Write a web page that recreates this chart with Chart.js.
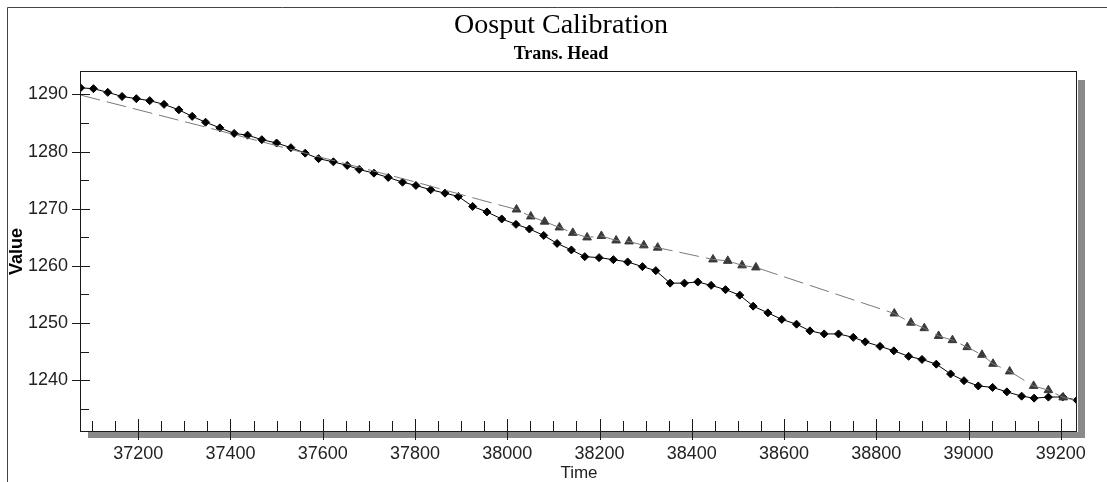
<!DOCTYPE html>
<html>
<head>
<meta charset="utf-8">
<script src="https://cdn.jsdelivr.net/npm/chart.js@4.4.1/dist/chart.umd.min.js"></script>
<style>
  html, body { margin: 0; padding: 0; background: #fff; }
</style>
</head>
<body>
<canvas id="chart" width="1107" height="482"></canvas>
<script>
// observed heads (black diamonds)
const obsTimes = [37075, 37103, 37134, 37165, 37196, 37225, 37256, 37288, 37317, 37346, 37377, 37408,
  37437, 37468, 37500, 37531, 37562, 37591, 37623, 37653, 37679, 37711, 37742, 37773, 37802, 37834,
  37865, 37894, 37925, 37956, 37988, 38019, 38048, 38079, 38108, 38139, 38168, 38199, 38230, 38261,
  38293, 38322, 38353, 38384, 38413, 38442, 38473, 38504, 38533, 38565, 38595, 38627, 38656, 38687,
  38718, 38750, 38776, 38808, 38838, 38870, 38899, 38930, 38961, 38990, 39021, 39052, 39083, 39115,
  39142, 39173, 39204, 39235];
const obsHeads = [1291.16, 1291.02, 1290.37, 1289.65, 1289.27, 1288.92, 1288.27, 1287.31, 1286.17, 1285.15,
  1284.16, 1283.18, 1282.88, 1282.09, 1281.51, 1280.69, 1279.73, 1278.77, 1278.21, 1277.58, 1276.88,
  1276.23, 1275.48, 1274.65, 1274.08, 1273.32, 1272.73, 1272.15, 1270.40, 1269.44, 1268.21, 1267.27,
  1266.46, 1265.33, 1263.93, 1262.79, 1261.62, 1261.44, 1261.09, 1260.69, 1259.87, 1259.17, 1256.98,
  1256.98, 1257.19, 1256.59, 1255.84, 1254.88, 1252.95, 1251.78, 1250.63, 1249.80, 1248.63, 1248.09,
  1248.09, 1247.49, 1246.70, 1245.92, 1245.13, 1244.17, 1243.63, 1242.80, 1241.09, 1239.91, 1238.99,
  1238.73, 1237.95, 1237.20, 1236.85, 1237.03, 1237.06, 1236.50];

// calculated heads at target times (triangles)
const targetTimes = [38020, 38051, 38081, 38113, 38142, 38173, 38204, 38236, 38264, 38296, 38326, 38446,
  38478, 38509, 38539, 38839, 38875, 38904, 38935, 38965, 38997, 39029, 39053, 39089, 39141, 39173, 39205];
const targetHeads = [1269.87, 1268.65, 1267.74, 1266.73, 1265.78, 1264.98, 1265.24, 1264.45, 1264.28,
  1263.59, 1263.19, 1261.13, 1260.88, 1260.09, 1259.73, 1251.67, 1250.06, 1249.10, 1247.74, 1247.00,
  1245.78, 1244.43, 1242.86, 1241.53, 1238.99, 1238.25, 1236.98];

// calculated curve before the first and after the last target
const calcLeadTimes = [37075, 37346, 37800, 37940];
const calcLeadHeads = [1289.9, 1284.3, 1274.7, 1271.6];
const calcTailTimes = [39236];
const calcTailHeads = [1236.4];

const xTickLabels = [37200, 37400, 37600, 37800, 38000, 38200, 38400, 38600, 38800, 39000, 39200];
const yTickLabels = [1240, 1250, 1260, 1270, 1280, 1290];

const toPoints = (xs, ys) => xs.map((x, i) => ({ x, y: ys[i] }));
const calcTimes = [...calcLeadTimes, ...targetTimes, ...calcTailTimes];
const calcHeads = [...calcLeadHeads, ...targetHeads, ...calcTailHeads];

const frame = {
  id: 'frame',
  beforeDraw(chart) {
    const { ctx, chartArea: a } = chart;
    const l = Math.round(a.left), t = Math.round(a.top), r = Math.round(a.right), b = Math.round(a.bottom);
    ctx.save();
    ctx.strokeStyle = '#444';
    ctx.lineWidth = 1;
    ctx.beginPath();
    ctx.moveTo(7.5, chart.height);
    ctx.lineTo(7.5, 7.5);
    ctx.lineTo(chart.width, 7.5);
    ctx.stroke();
    // drop shadow of the plot box
    ctx.fillStyle = '#8a8a8a';
    ctx.fillRect(r + 1, t + 8, 7, b - t - 1);
    ctx.fillRect(l + 7, b + 1, r - l - 6, 6);
    ctx.restore();
  },
  afterDraw(chart) {
    const { ctx, chartArea: a, scales } = chart;
    const l = Math.round(a.left), t = Math.round(a.top), r = Math.round(a.right), b = Math.round(a.bottom);
    ctx.save();
    ctx.strokeStyle = '#1a1a1a';
    ctx.lineWidth = 1;
    ctx.strokeRect(l - 0.5, t - 0.5, r - l, b - t + 1);
    ctx.beginPath();
    for (let v = 1235; v <= 1290; v += 5) {
      const py = Math.round(scales.y.getPixelForValue(v)) + 0.5;
      if (v % 10 === 0) { ctx.moveTo(l - 9, py); ctx.lineTo(l + 9, py); }
      else { ctx.moveTo(l, py); ctx.lineTo(l + 8, py); }
    }
    for (let tm = 37100; tm <= 39200; tm += 50) {
      const px = Math.round(scales.x.getPixelForValue(tm)) + 0.5;
      if (tm % 200 === 0) { ctx.moveTo(px, b - 12); ctx.lineTo(px, b + 9); }
      else { ctx.moveTo(px, b - 10); ctx.lineTo(px, b); }
    }
    ctx.stroke();
    ctx.restore();
  }
};

new Chart(document.getElementById('chart'), {
  type: 'scatter',
  data: {
    datasets: [
      {
        label: 'Calculated',
        data: toPoints(calcTimes, calcHeads),
        showLine: true,
        borderColor: '#7a7a7a',
        borderWidth: 1,
        borderDash: [20, 7],
        pointRadius: 0,
        tension: 0
      },
      {
        label: 'Targets',
        data: toPoints(targetTimes, targetHeads),
        showLine: false,
        pointStyle: 'triangle',
        pointRadius: 5,
        pointBackgroundColor: '#3a3a3a',
        pointBorderColor: '#3a3a3a',
        pointBorderWidth: 1
      },
      {
        label: 'Observed',
        data: toPoints(obsTimes, obsHeads),
        showLine: true,
        borderColor: '#000',
        borderWidth: 1,
        tension: 0,
        pointStyle: 'rectRot',
        pointRadius: 4,
        pointBackgroundColor: '#000',
        pointBorderColor: '#000',
        pointBorderWidth: 1
      }
    ]
  },
  options: {
    responsive: false,
    animation: false,
    layout: { padding: { left: 15, right: 0, top: 0, bottom: 0 } },
    plugins: {
      legend: { display: false },
      tooltip: { enabled: false },
      title: {
        display: true,
        text: 'Oosput Calibration',
        color: '#000',
        font: { family: 'Liberation Serif', size: 28, weight: 'normal' },
        padding: { top: 9, bottom: 0 }
      },
      subtitle: {
        display: true,
        text: 'Trans. Head',
        color: '#000',
        font: { family: 'Liberation Serif', size: 18, weight: 'bold' },
        padding: { top: 1, bottom: 7 }
      }
    },
    scales: {
      x: {
        type: 'linear',
        min: 37076,
        max: 39235,
        afterBuildTicks: s => { s.ticks = xTickLabels.map(v => ({ value: v })); },
        afterFit: s => { s.height = 51; },
        grid: { display: false, drawTicks: false },
        border: { display: false },
        ticks: {
          padding: 12,
          color: '#222',
          maxRotation: 0,
          autoSkip: false,
          font: { family: 'Liberation Sans', size: 18 },
          callback: v => String(v)
        },
        title: {
          display: true,
          text: 'Time',
          color: '#222',
          font: { family: 'Liberation Sans', size: 17 },
          padding: { top: 0, bottom: -2 }
        }
      },
      y: {
        type: 'linear',
        min: 1231.1,
        max: 1293.9,
        afterBuildTicks: s => { s.ticks = yTickLabels.map(v => ({ value: v })); },
        afterFit: s => { s.width = 66; },
        grid: { display: false, drawTicks: false },
        border: { display: false },
        ticks: {
          padding: 13,
          color: '#222',
          font: { family: 'Liberation Sans', size: 18 },
          callback: v => String(v)
        },
        title: {
          display: true,
          text: 'Value',
          color: '#000',
          font: { family: 'Liberation Sans', size: 18, weight: 'bold' },
          padding: { top: -9, bottom: 0 }
        }
      },
      y2: {
        position: 'right',
        afterFit: s => { s.width = 30; },
        grid: { display: false },
        border: { display: false },
        ticks: { display: false }
      }
    }
  },
  plugins: [frame]
});
</script>
</body>
</html>
